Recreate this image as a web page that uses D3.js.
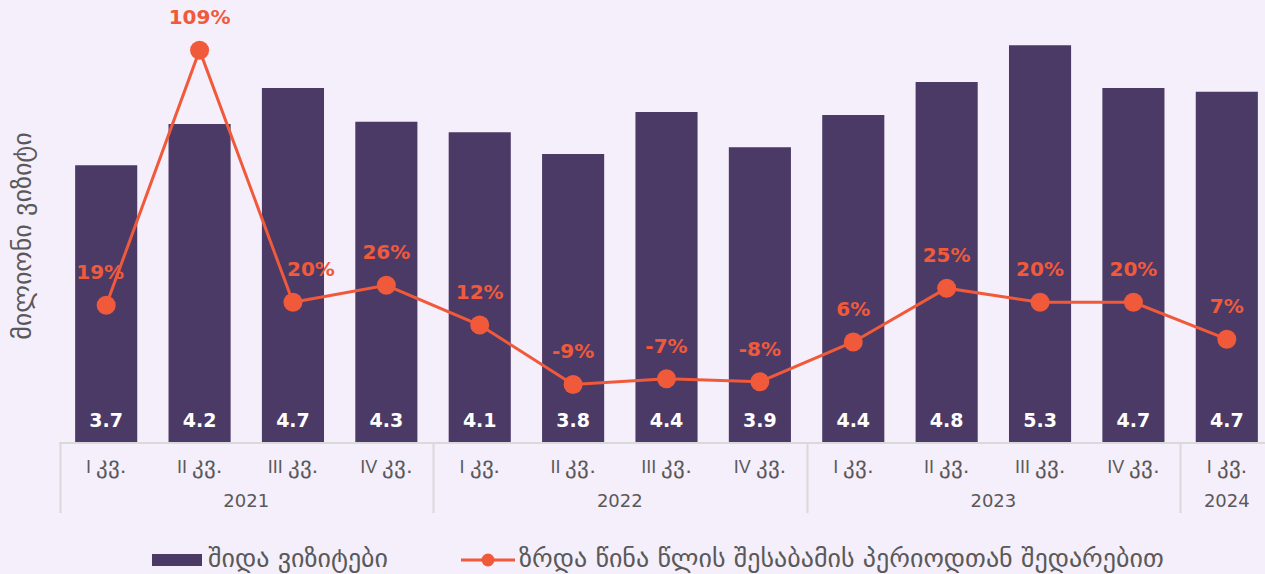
<!DOCTYPE html>
<html>
<head>
<meta charset="utf-8">
<script src="https://cdn.jsdelivr.net/npm/d3@7"></script>
<style>
  html, body { margin: 0; padding: 0; background: #f5eefb; }
  svg { display: block; font-family: "DejaVu Sans", sans-serif; }
  .q-label { fill: #595959; font-size: 18px; }
  .q-label .geo { font-size: 22.5px; }
  .year-label { fill: #595959; font-size: 18px; }
  .bar-label { fill: #ffffff; font-size: 19px; font-weight: bold; }
  .pct-label { fill: #f05a3a; font-size: 20px; font-weight: bold; }
  .legend-text { fill: #595959; font-size: 26px; }
  .y-title { fill: #595959; font-size: 26px; }
</style>
</head>
<body>
<svg id="chart"></svg>
<script>
const quarters = ["I კვ.", "II კვ.", "III კვ.", "IV კვ.", "I კვ.", "II კვ.", "III კვ.", "IV კვ.", "I კვ.", "II კვ.", "III კვ.", "IV კვ.", "I კვ."]
const years = ["2021", "2022", "2023", "2024"]
const yearSpan = [4, 4, 4, 1]
const visits = [3.69, 4.24, 4.72, 4.27, 4.13, 3.84, 4.40, 3.93, 4.36, 4.80, 5.29, 4.72, 4.67]
const growth = [19, 109, 20, 26, 12, -9, -7, -8, 6, 25, 20, 20, 7]
const barName = "შიდა ვიზიტები"
const lineName = "ზრდა წინა წლის შესაბამის პერიოდთან შედარებით"
const yTitle = "მილიონი ვიზიტი"

const width = 1265
const height = 574
const baseY = 442

const svg = d3.select("#chart")
  .attr("width", width)
  .attr("height", height)

const ids = quarters.map((d, i) => i)

let x = d3.scaleBand()
  .domain(ids)
  .range([59.5, 1273.5])
  .paddingInner(0.335)
  .paddingOuter(0.1675)

let y = d3.scaleLinear()
  .domain([0, 5.3])
  .range([baseY, baseY - 5.3 * 75])

let y2 = d3.scaleLinear()
  .domain([0, 109])
  .range([359, 359 - 109 * 2.833])

const orange = "#f05a3a"
const purple = "#4b3a66"

// bars
svg.selectAll("rect.bar")
  .data(visits)
  .enter()
  .append("rect")
    .attr("class", "bar")
    .attr("x", (d, i) => x(i))
    .attr("width", x.bandwidth())
    .attr("y", d => y(d))
    .attr("height", d => y(0) - y(d))
    .attr("fill", purple)

svg.selectAll("text.bar-label")
  .data(visits)
  .enter()
  .append("text")
    .attr("class", "bar-label")
    .attr("x", (d, i) => x(i) + x.bandwidth() / 2)
    .attr("y", y(0) - 15)
    .attr("text-anchor", "middle")
    .text(d => d3.format(".1f")(d))

// x axis, georgian part of the tick a bit larger
const xAxis = d3.axisBottom(x).tickSize(0).tickFormat(() => "")
const xG = svg.append("g")
  .attr("transform", "translate(0," + baseY + ")")
  .call(xAxis)
xG.select(".domain").remove()
xG.selectAll(".tick text").each(function (i) {
  const t = d3.select(this)
    .attr("class", "q-label")
    .attr("fill", null)
    .attr("font-family", null)
    .attr("font-size", null)
    .attr("dy", 0)
    .attr("y", 31)
  const parts = quarters[i].split(" ")
  t.append("tspan").text(parts[0] + " ")
  t.append("tspan").attr("class", "geo").text(parts[1])
})

svg.append("line")
  .attr("x1", 59.5).attr("x2", width)
  .attr("y1", baseY + 1).attr("y2", baseY + 1)
  .attr("stroke", "#d9d9d9")
  .attr("stroke-width", 2)

// year groups
let start = 0
const step = x.step()
const x0 = x.range()[0]
years.forEach((yr, k) => {
  const left = x0 + start * step
  const right = left + yearSpan[k] * step
  svg.append("line")
    .attr("x1", Math.round(left) + 0.5).attr("x2", Math.round(left) + 0.5)
    .attr("y1", baseY).attr("y2", 513)
    .attr("stroke", "#d9d9d9")
    .attr("stroke-width", 2)
  svg.append("text")
    .attr("class", "year-label")
    .attr("x", yearSpan[k] == 1 ? x(start) + x.bandwidth() / 2 : (left + right) / 2)
    .attr("y", 507)
    .attr("text-anchor", "middle")
    .text(yr)
  start += yearSpan[k]
})

// line
const line = d3.line()
  .x((d, i) => x(i) + x.bandwidth() / 2)
  .y(d => y2(d))

svg.append("path")
  .datum(growth)
  .attr("d", line)
  .attr("fill", "none")
  .attr("stroke", orange)
  .attr("stroke-width", 3)

svg.selectAll("circle.pt")
  .data(growth)
  .enter()
  .append("circle")
    .attr("class", "pt")
    .attr("cx", (d, i) => x(i) + x.bandwidth() / 2)
    .attr("cy", d => y2(d))
    .attr("r", 9.5)
    .attr("fill", orange)

// a couple of labels are nudged so they don't sit on the line
const labelNudge = { 0: -6, 2: 18 }

svg.selectAll("text.pct-label")
  .data(growth)
  .enter()
  .append("text")
    .attr("class", "pct-label")
    .attr("x", (d, i) => x(i) + x.bandwidth() / 2 + (labelNudge[i] || 0))
    .attr("y", d => y2(d) - 26)
    .attr("text-anchor", "middle")
    .text(d => d + "%")

// y title
svg.append("text")
  .attr("class", "y-title")
  .attr("transform", "translate(31,236) rotate(-90)")
  .attr("text-anchor", "middle")
  .text(yTitle)

// legend
const lg = svg.append("g")
lg.append("rect")
  .attr("x", 152).attr("y", 554)
  .attr("width", 50).attr("height", 12)
  .attr("fill", purple)
lg.append("text")
  .attr("class", "legend-text")
  .attr("x", 208).attr("y", 567)
  .text(barName)
lg.append("line")
  .attr("x1", 461).attr("x2", 515)
  .attr("y1", 560).attr("y2", 560)
  .attr("stroke", orange)
  .attr("stroke-width", 3)
lg.append("circle")
  .attr("cx", 488).attr("cy", 560)
  .attr("r", 6.5)
  .attr("fill", orange)
lg.append("text")
  .attr("class", "legend-text")
  .attr("x", 519).attr("y", 567)
  .text(lineName)
</script>
</body>
</html>
